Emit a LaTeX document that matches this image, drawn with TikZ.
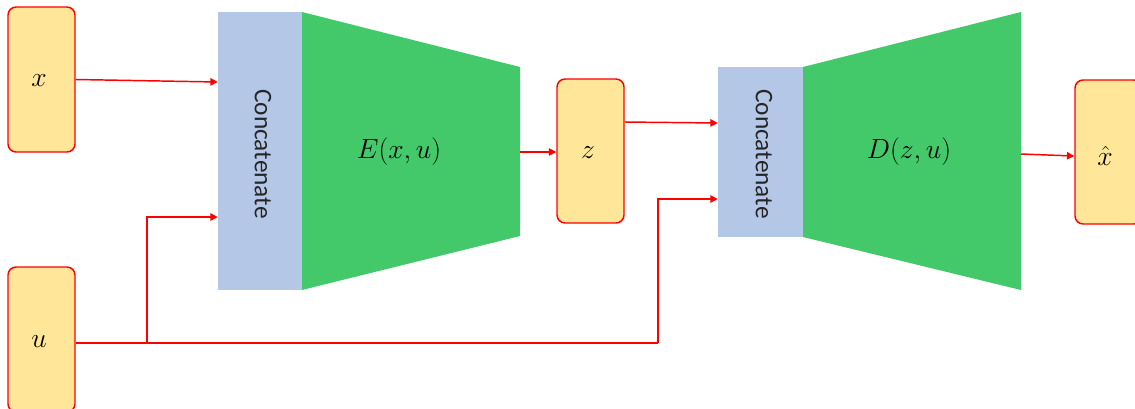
\documentclass[tikz,border=0pt]{standalone}
\usepackage{fontspec}
\newfontfamily\calib{Carlito}
\usetikzlibrary{arrows.meta}
\definecolor{boxyel}{HTML}{FFE699}
\definecolor{concblue}{HTML}{B4C7E7}
\definecolor{encgreen}{HTML}{43C86A}
\begin{document}
\begin{tikzpicture}[x=0.75pt,y=-0.75pt,
  var/.style={draw=red, fill=boxyel, rounded corners=6pt, line width=1.1pt, inner sep=0pt,
    minimum width=50.25pt, minimum height=108.75pt, font=\fontsize{20}{22}\selectfont},
  conc/.style={fill=concblue, inner sep=0pt, minimum width=63pt},
  conclabel/.style={rotate=-90, font=\calib\fontsize{19}{21}\selectfont, text=black!85},
  mathlabel/.style={font=\fontsize{20}{22}\selectfont},
  link/.style={draw=red, line width=1.1pt, -{Triangle[length=5.5pt,width=5.5pt]}},
  wire/.style={draw=red, line width=1.1pt}]
\clip (0,0) rectangle (1135,408);
\useasboundingbox (0,0) rectangle (1135,408);
% encoder trapezoid
\fill[encgreen] (302,12) -- (520,67) -- (520,236) -- (302,290) -- cycle;
% decoder trapezoid
\fill[encgreen] (803,67) -- (1021,12) -- (1021,290) -- (803,237) -- cycle;
% concatenate blocks
\node[conc, minimum height=208.5pt] (c1) at (260,151) {};
\node[conclabel] at (263,154) {Concatenate};
\node[conc, minimum width=63.75pt, minimum height=127.5pt] (c2) at (760.5,152) {};
\node[conclabel] at (764,154) {Concatenate};
% labels of networks
\node[mathlabel] (enc) at (399,152) {$E(x,u)$};
\node[mathlabel] (dec) at (909,152) {$D(z,u)$};
\coordinate (encout) at (520,152);
\coordinate (decout) at (1021,154);
% variables
\node[var] (x) at (41.5,79.5) {};
\node[mathlabel] at (39,81) {$x$};
\node[var] (u) at (41.5,339.5) {};
\node[mathlabel] at (39,342) {$u$};
\node[var, minimum height=108pt] (z) at (590.5,151) {};
\node[mathlabel] at (588,153) {$z$};
\node[var, minimum height=108pt] (xh) at (1108.5,152) {};
\node[mathlabel] at (1105,156) {$\hat{x}$};
% connectors
\coordinate (u1) at (147,343);
\coordinate (u2) at (658,343);
\draw[link] (x.east |- 0,79.5) -- (c1.west |- 0,82);
\draw[wire] (u.east |- 0,343) -- (u2);
\draw[link] (u1) |- (c1.west |- 0,217);
\draw[link] (u2) |- (c2.west |- 0,199);
\draw[link] (encout) -- (z.west |- 0,152);
\draw[link] (z.east |- 0,122) -- (c2.west |- 0,123);
\draw[link] (decout) -- (xh.west |- 0,156);
\end{tikzpicture}
\end{document}
